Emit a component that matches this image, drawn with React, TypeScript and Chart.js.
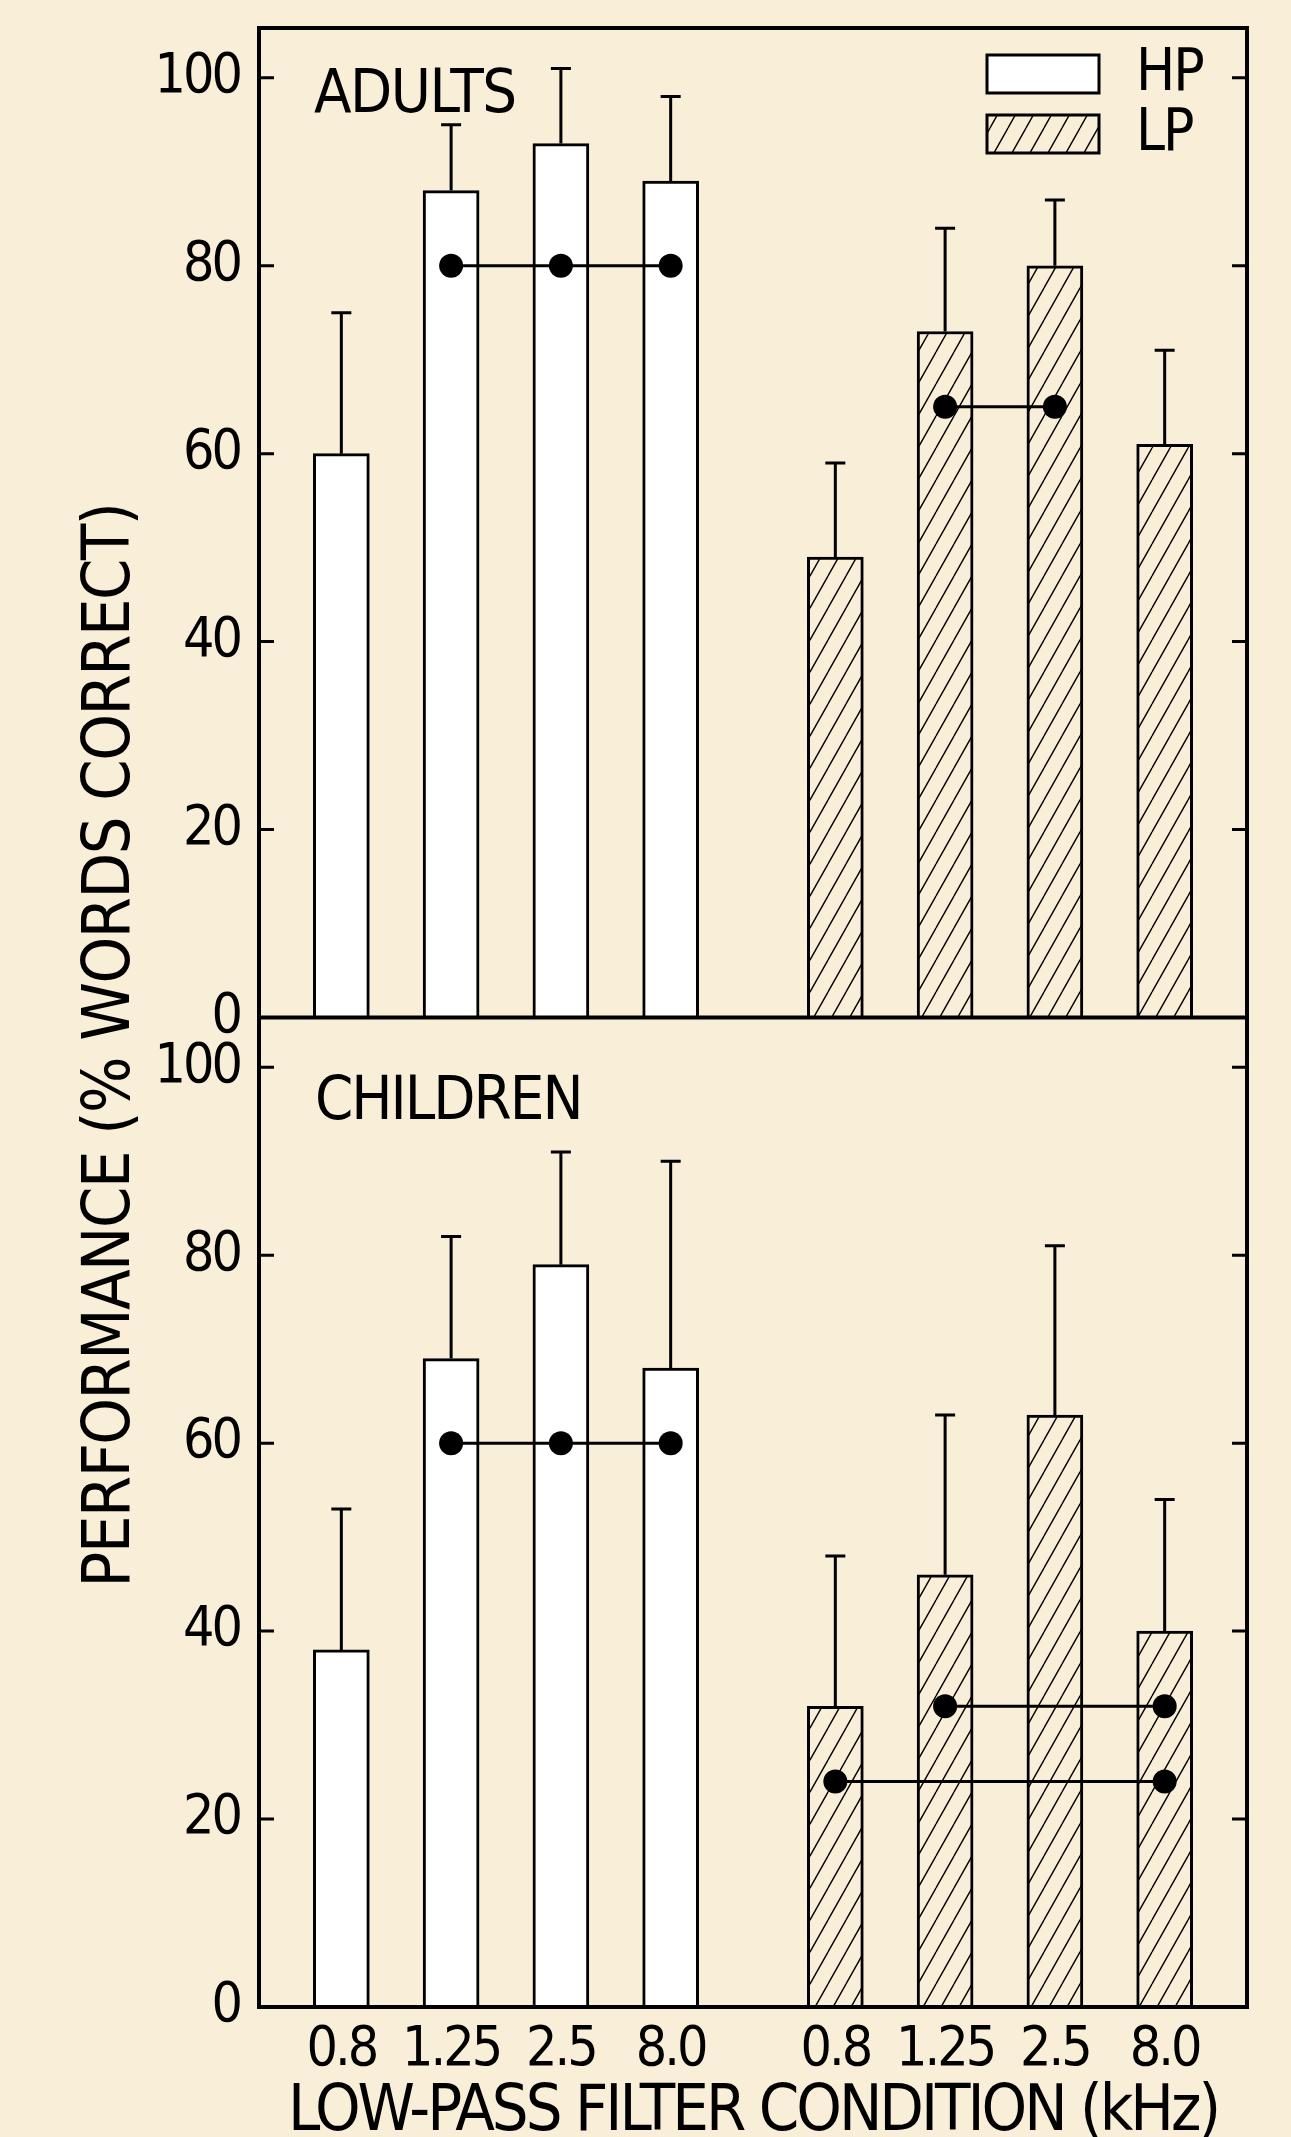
import React, { useEffect, useRef } from 'react';
import { Chart, registerables } from 'chart.js';
Chart.register(...registerables);

const FONT = "'Liberation Sans Narrow', 'DejaVu Sans Condensed', 'Arial Narrow', 'Liberation Sans', sans-serif";
const BG = '#F9EED7';
const INK = '#000000';

// categories
const freqLabels = ['0.8', '1.25', '2.5', '8.0'];
const hpX = [0, 1, 2, 3];
const lpX = [4.5, 5.5, 6.5, 7.5];
const xTickLabels = [...freqLabels, ...freqLabels];
const yTickValues = [0, 20, 40, 60, 80, 100];

// ADULTS
const adultsHP = [60, 88, 93, 89];
const adultsHPsd = [15, 7, 8, 9];
const adultsLP = [49, 73, 80, 61];
const adultsLPsd = [10, 11, 7, 10];

// CHILDREN
const childrenHP = [38, 69, 79, 68];
const childrenHPsd = [15, 13, 12, 22];
const childrenLP = [32, 46, 63, 40];
const childrenLPsd = [16, 17, 18, 14];

// significance markers (group, indices of conditions joined, level)
const adultsSig = [
  { group: 'HP', idx: [1, 2, 3], y: 80 },
  { group: 'LP', idx: [1, 2], y: 65 },
];
const childrenSig = [
  { group: 'HP', idx: [1, 2, 3], y: 60 },
  { group: 'LP', idx: [1, 3], y: 32 },
  { group: 'LP', idx: [0, 3], y: 24 },
];

const yTitle = 'PERFORMANCE (% WORDS CORRECT)';
const xTitle = 'LOW-PASS FILTER CONDITION (kHz)';

function makeHatch(): CanvasPattern | string {
  const tile = document.createElement('canvas');
  const w = 18, h = 32;
  tile.width = w; tile.height = h;
  const c = tile.getContext('2d');
  if (!c) return BG;
  c.fillStyle = BG;
  c.fillRect(0, 0, w, h);
  c.strokeStyle = INK;
  c.lineWidth = 1.4;
  c.beginPath();
  for (const dx of [-w, 0, w]) {
    c.moveTo(dx, h);
    c.lineTo(dx + w, 0);
  }
  c.stroke();
  const p = c.createPattern(tile, 'repeat');
  return p || BG;
}

function barData(xs: number[], ys: number[]) {
  return xs.map((x, i) => ({ x, y: ys[i] }));
}

function sigDatasets(list: { group: string; idx: number[]; y: number }[], axis: string) {
  return list.map((s) => ({
    type: 'line' as const,
    label: 'sig',
    data: s.idx.map((i) => ({ x: (s.group === 'HP' ? hpX : lpX)[i], y: s.y })),
    yAxisID: axis,
    borderColor: INK,
    borderWidth: 3,
    pointRadius: 12,
    pointHoverRadius: 12,
    pointBorderWidth: 0,
    pointBackgroundColor: INK,
    fill: false,
    order: 0,
  }));
}

function setSpacing(ctx: any, v: string) {
  if ('letterSpacing' in ctx) ctx.letterSpacing = v;
}

const decorPlugin = {
  id: 'decor',
  beforeDraw(chart: any) {
    setSpacing(chart.ctx, '-3px');
  },
  afterDatasetsDraw(chart: any) {
    const ctx = chart.ctx as CanvasRenderingContext2D;
    const { left, right, top, bottom } = chart.chartArea;
    const xs = chart.scales.x;
    const yTop = chart.scales.yTop;
    const yBot = chart.scales.yBot;
    ctx.save();
    ctx.strokeStyle = INK;
    ctx.fillStyle = INK;

    // error bars (upper only)
    ctx.lineWidth = 3;
    chart.data.datasets.forEach((ds: any) => {
      if (!ds.errors) return;
      const ys = chart.scales[ds.yAxisID];
      ds.data.forEach((d: any, i: number) => {
        const px = xs.getPixelForValue(d.x);
        const y0 = ys.getPixelForValue(d.y);
        const y1 = ys.getPixelForValue(d.y + ds.errors[i]);
        ctx.beginPath();
        ctx.moveTo(px, y0);
        ctx.lineTo(px, y1);
        ctx.moveTo(px - 10, y1);
        ctx.lineTo(px + 10, y1);
        ctx.stroke();
      });
    });

    // inward ticks, left and right
    ctx.lineWidth = 3;
    [yTop, yBot].forEach((s: any) => {
      s.ticks.forEach((t: any) => {
        const py = s.getPixelForValue(t.value);
        ctx.beginPath();
        ctx.moveTo(left, py);
        ctx.lineTo(left + 15, py);
        ctx.moveTo(right - 15, py);
        ctx.lineTo(right, py);
        ctx.stroke();
      });
    });

    // frame
    ctx.lineWidth = 4;
    ctx.strokeRect(left, top, right - left, bottom - top);
    ctx.beginPath();
    ctx.moveTo(left, yTop.bottom);
    ctx.lineTo(right, yTop.bottom);
    ctx.stroke();

    // panel labels
    setSpacing(ctx, '-1.5px');
    ctx.font = `61px ${FONT}`;
    ctx.textAlign = 'left';
    ctx.textBaseline = 'alphabetic';
    ctx.fillText('ADULTS', left + 55, yTop.top + 84);
    setSpacing(ctx, '-2px');
    ctx.fillText('CHILDREN', left + 56, yBot.top + 101);

    // legend
    const legendItems = chart.data.datasets.filter((d: any) => d.legend);
    legendItems.forEach((d: any, i: number) => {
      const bx = right - 260;
      const by = top + 27 + i * 60;
      ctx.fillStyle = d.backgroundColor;
      ctx.fillRect(bx, by, 112, 38);
      ctx.lineWidth = 3;
      ctx.strokeStyle = INK;
      ctx.strokeRect(bx, by, 112, 38);
      ctx.fillStyle = INK;
      ctx.font = `58px ${FONT}`;
      ctx.textBaseline = 'middle';
      ctx.fillText(d.label, right - 111, by + 20);
    });

    // y-axis title spanning both panels
    ctx.save();
    setSpacing(ctx, '-1.5px');
    ctx.translate(112, (top + bottom) / 2 + 28);
    ctx.rotate(-Math.PI / 2);
    ctx.textAlign = 'center';
    ctx.textBaseline = 'middle';
    ctx.font = `66px ${FONT}`;
    ctx.fillStyle = INK;
    ctx.fillText(yTitle, 0, 0);
    ctx.restore();

    ctx.restore();
  },
  afterDraw(chart: any) {
    setSpacing(chart.ctx, '0px');
  },
};

function yAxis(weight: number) {
  return {
    type: 'linear' as const,
    position: 'left' as const,
    stack: 'panels',
    stackWeight: 1,
    weight,
    min: 0,
    max: 105.3,
    afterBuildTicks: (s: any) => {
      s.ticks = yTickValues.map((value) => ({ value }));
    },
    afterFit: (s: any) => {
      s.width = 259;
      s.paddingTop = 0;
      s.paddingBottom = 0;
      s.paddingLeft = 0;
      s.paddingRight = 0;
    },
    ticks: {
      color: INK,
      padding: 19,
      font: { family: FONT, size: 55 },
    },
    grid: { display: false, drawTicks: false },
    border: { display: false },
  };
}

export default function App() {
  const ref = useRef<HTMLCanvasElement>(null);
  useEffect(() => {
    document.body.style.margin = '0';
    document.body.style.background = BG;
    const canvas = ref.current;
    if (!canvas) return;
    const hatch = makeHatch();
    const barCommon = {
      type: 'bar' as const,
      borderColor: INK,
      borderWidth: 3,
      barThickness: 56,
      grouped: false,
      order: 2,
    };
    const chart = new Chart(canvas, {
      type: 'bar',
      data: {
        datasets: [
          ...sigDatasets(adultsSig, 'yTop'),
          ...sigDatasets(childrenSig, 'yBot'),
          { ...barCommon, label: 'HP', legend: true, data: barData(hpX, adultsHP), errors: adultsHPsd, yAxisID: 'yTop', backgroundColor: '#FFFFFF' } as any,
          { ...barCommon, label: 'LP', legend: true, data: barData(lpX, adultsLP), errors: adultsLPsd, yAxisID: 'yTop', backgroundColor: hatch } as any,
          { ...barCommon, label: 'HP', data: barData(hpX, childrenHP), errors: childrenHPsd, yAxisID: 'yBot', backgroundColor: '#FFFFFF' } as any,
          { ...barCommon, label: 'LP', data: barData(lpX, childrenLP), errors: childrenLPsd, yAxisID: 'yBot', backgroundColor: hatch } as any,
        ] as any,
      },
      options: {
        responsive: false,
        animation: false,
        devicePixelRatio: 1,
        events: [],
        layout: { padding: { top: 28, right: 44, left: 0, bottom: 0 } },
        plugins: { legend: { display: false }, tooltip: { enabled: false }, title: { display: false } },
        scales: {
          x: {
            type: 'linear',
            position: 'bottom',
            offset: false,
            min: -0.75,
            max: 8.25,
            afterBuildTicks: (s: any) => {
              s.ticks = [...hpX, ...lpX].map((value) => ({ value }));
            },
            afterFit: (s: any) => {
              s.height = 130;
              s.paddingLeft = 0;
              s.paddingRight = 0;
            },
            ticks: {
              autoSkip: false,
              maxRotation: 0,
              color: INK,
              padding: 11,
              font: { family: FONT, size: 55 },
              callback: (_v: any, i: number) => xTickLabels[i],
            },
            grid: { display: false, drawTicks: false, offset: false },
            border: { display: false },
            title: {
              display: true,
              text: xTitle,
              color: INK,
              padding: 0,
              font: { family: FONT, size: 64.5, lineHeight: 0.74 },
            },
          },
          yBot: yAxis(0),
          yTop: yAxis(1),
        } as any,
      },
      plugins: [decorPlugin],
    });
    return () => chart.destroy();
  }, []);
  return (
    <div style={{ width: 1291, height: 2137, background: BG }}>
      <canvas ref={ref} width={1291} height={2137} style={{ display: 'block' }} />
    </div>
  );
}
